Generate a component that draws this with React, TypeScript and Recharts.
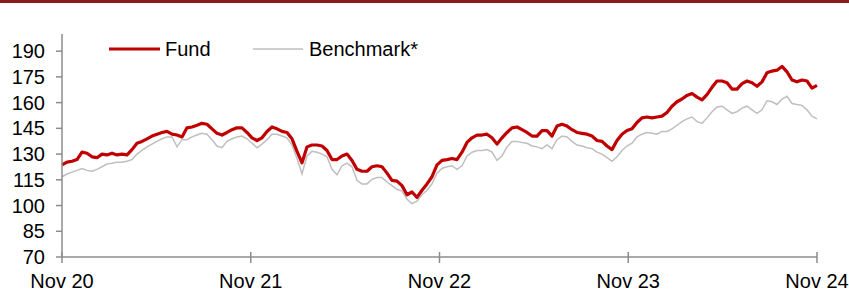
import { Legend, Line, LineChart, XAxis, YAxis } from "recharts";

// fund and benchmark, rebased, roughly fortnightly points Nov 20 -> Nov 24
const fund = [
  123.7, 125.3, 125.8, 126.8, 131.1, 130.5, 128.4, 127.9, 130.0, 129.5,
  130.5, 129.5, 130.0, 129.5, 132.6, 136.3, 137.4, 138.9, 140.5, 141.6,
  142.6, 143.2, 141.6, 141.1, 140.0, 145.3, 145.8, 146.8, 147.9, 147.4,
  144.7, 142.1, 141.1, 142.6, 144.2, 145.3, 145.3, 142.6, 139.5, 137.9,
  139.5, 143.2, 145.8, 144.7, 143.2, 142.6, 138.9, 131.6, 124.9, 134.2,
  135.3, 135.3, 134.7, 132.1, 126.8, 126.8, 128.9, 130.0, 126.3, 121.1,
  120.0, 120.0, 122.6, 123.2, 122.6, 118.9, 114.7, 114.2, 111.6, 106.3,
  107.9, 104.8, 108.9, 112.6, 116.8, 123.7, 126.3, 126.8, 127.4, 126.8,
  131.1, 136.8, 139.5, 141.1, 141.1, 141.6, 139.5, 135.8, 139.5, 142.6,
  145.3, 145.8, 144.2, 142.6, 140.5, 140.5, 143.7, 143.7, 140.5, 146.3,
  147.4, 146.3, 144.2, 142.6, 142.1, 141.6, 140.5, 137.9, 137.4, 134.7,
  132.6, 137.9, 141.6, 143.7, 144.7, 148.4, 151.1, 151.6, 151.1, 151.6,
  152.1, 154.2, 157.9, 160.5, 162.1, 164.2, 165.3, 163.2, 161.6, 164.7,
  168.9, 172.6, 172.6, 171.6, 167.9, 167.9, 171.1, 172.6, 171.6, 169.5,
  172.1, 177.4, 178.4, 178.9, 181.1, 177.9, 173.2, 172.1, 173.2, 172.6,
  168.4, 170.0,
];

const benchmark = [
  116.8, 118.4, 119.5, 120.5, 121.6, 120.5, 120.0, 121.1, 122.6, 124.2,
  124.7, 125.3, 125.3, 125.8, 126.8, 130.0, 132.1, 134.2, 135.8, 137.4,
  138.9, 140.0, 140.0, 134.2, 138.4, 138.4, 140.0, 141.1, 142.1, 141.6,
  138.4, 134.7, 133.7, 137.4, 138.9, 140.0, 140.5, 138.9, 136.3, 133.7,
  135.8, 138.4, 141.6, 141.6, 140.5, 139.5, 135.3, 127.4, 118.4, 128.9,
  131.6, 131.1, 130.0, 128.4, 121.1, 117.9, 123.2, 124.7, 122.6, 114.7,
  112.6, 112.6, 115.3, 116.3, 116.3, 113.7, 111.6, 109.5, 108.4, 103.7,
  101.1, 102.6, 106.3, 108.9, 112.6, 118.9, 121.6, 122.6, 123.2, 121.1,
  123.2, 128.9, 131.1, 132.1, 132.1, 132.6, 131.1, 126.3, 128.9, 134.2,
  137.4, 137.4, 136.8, 136.3, 134.7, 134.2, 133.2, 135.3, 133.2, 138.4,
  140.5, 140.0, 137.4, 135.3, 134.7, 133.7, 133.2, 131.1, 130.0, 127.9,
  125.8, 128.4, 132.1, 134.7, 136.3, 140.0, 141.6, 142.6, 142.1, 141.6,
  143.2, 143.2, 144.7, 146.8, 148.9, 150.5, 151.6, 148.9, 147.9, 151.1,
  154.7, 157.4, 157.9, 155.8, 153.7, 154.7, 156.8, 157.9, 155.8, 153.7,
  155.8, 161.1, 160.5, 158.9, 162.1, 163.7, 159.5, 158.9, 158.4, 155.8,
  152.1, 150.5,
];

const xLabels = ["Nov 20", "Nov 21", "Nov 22", "Nov 23", "Nov 24"];
const yTicks = [70, 85, 100, 115, 130, 145, 160, 175, 190];

const last = fund.length - 1;
const xTicks = xLabels.map((_, i) => (last * i) / (xLabels.length - 1));
const data = fund.map((f, i) => ({ i, fund: f, benchmark: benchmark[i] }));

const FONT = "'Liberation Sans', Arial, sans-serif";
const AXIS = "#8c8c8c";

function XTick(props: any) {
  const { x, y, index } = props;
  return (
    <g>
      <line x1={x} x2={x} y1={y - 5} y2={y + 6} stroke={AXIS} strokeWidth={1.5} />
      <text x={x} y={y + 31} textAnchor="middle" fontSize={20} fontFamily={FONT} fill="#000">
        {xLabels[index]}
      </text>
    </g>
  );
}

function LegendBox() {
  return (
    <svg width={340} height={24} style={{ display: "block" }}>
      <line x1={0} x2={51} y1={12} y2={12} stroke="#c00000" strokeWidth={3} />
      <text x={56} y={12} dominantBaseline="central" fontSize={20} fontFamily={FONT} fill="#000">
        Fund
      </text>
      <line x1={144} x2={194} y1={12} y2={12} stroke="#bfbfbf" strokeWidth={1.5} />
      <text x={200} y={12} dominantBaseline="central" fontSize={20} fontFamily={FONT} fill="#000">
        Benchmark*
      </text>
    </svg>
  );
}

export default function App() {
  return (
    <div style={{ position: "absolute", left: 0, top: 0, width: 849, height: 291, background: "#fff" }}>
      <div style={{ position: "absolute", left: 0, top: 0, width: 849, height: 3, background: "#8b1c1c" }} />
      <LineChart width={849} height={291} data={data} margin={{ top: 10, right: 32, bottom: 0, left: 0 }}>
        <XAxis
          dataKey="i"
          type="number"
          domain={[0, last]}
          ticks={xTicks}
          interval={0}
          height={34}
          tickSize={0}
          tickMargin={0}
          tickLine={false}
          axisLine={{ stroke: AXIS, strokeWidth: 1.5 }}
          tick={<XTick />}
        />
        <YAxis
          domain={[70, 200]}
          ticks={yTicks}
          interval={0}
          width={62}
          tickSize={6}
          tickMargin={11}
          axisLine={{ stroke: AXIS, strokeWidth: 1.5 }}
          tickLine={{ stroke: AXIS, strokeWidth: 1.5 }}
          tick={{ fontSize: 20, fontFamily: FONT, fill: "#000" }}
        />
        <Legend
          verticalAlign="top"
          content={() => <LegendBox />}
          wrapperStyle={{ top: 37, left: 109, width: 340 }}
        />
        <Line
          type="linear"
          dataKey="benchmark"
          stroke="#bfbfbf"
          strokeWidth={1.5}
          dot={false}
          isAnimationActive={false}
        />
        <Line
          type="linear"
          dataKey="fund"
          stroke="#c00000"
          strokeWidth={3.2}
          dot={false}
          strokeLinejoin="round"
          isAnimationActive={false}
        />
      </LineChart>
    </div>
  );
}
